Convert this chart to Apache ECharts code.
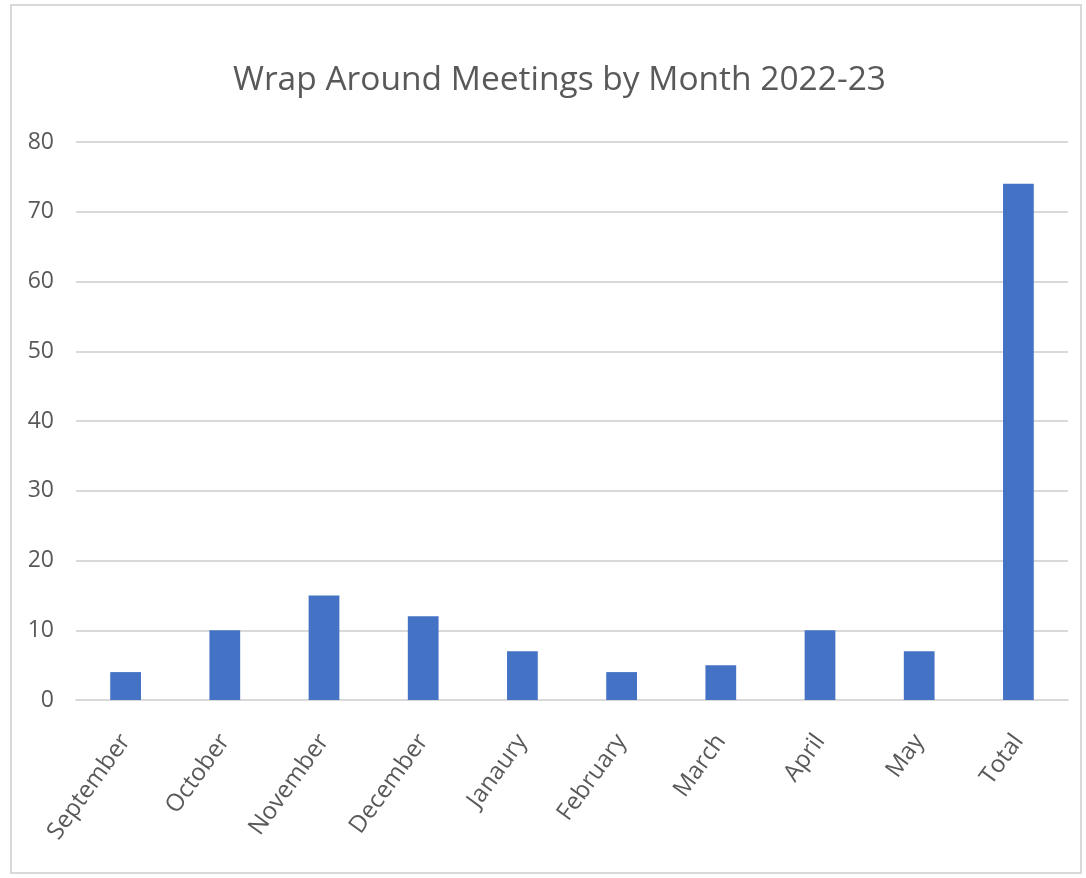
<!DOCTYPE html>
<html>
<head>
<meta charset="utf-8">
<script src="https://cdn.jsdelivr.net/npm/echarts@6/dist/echarts.min.js"></script>
<style>
html,body{margin:0;padding:0;background:#fff;}
#frame{position:absolute;left:10px;top:4px;width:1072px;height:870px;border:2px solid #d9d9d9;box-sizing:border-box;}
#chart{position:absolute;left:0;top:0;width:1086px;height:878px;}
</style>
</head>
<body>
<div id="frame"></div>
<div id="chart"></div>
<script>
const categories = ["September","October","November","December","Janaury","February","March","April","May","Total"];
const meetings = [4,10,15,12,7,4,5,10,7,74];
const yTicks = {min:0, max:80, interval:10};

const chart = echarts.init(document.getElementById('chart'));
chart.setOption({
  animation:false,
  title:{
    text:"Wrap Around Meetings by Month 2022-23",
    left:228, top:58,
    textStyle:{fontFamily:'Open Sans', fontSize:33.5, fontWeight:'normal', color:'#595959'}
  },
  grid:{left:76, right:18, top:142, bottom:178},
  xAxis:{
    type:'category', data:categories,
    axisLine:{show:true, lineStyle:{color:'#d9d9d9', width:2}},
    axisTick:{show:false},
    axisLabel:{rotate:54, interval:0, margin:37, fontFamily:'Open Sans', fontSize:24, color:'#595959'}
  },
  yAxis:{
    type:'value', min:yTicks.min, max:yTicks.max, interval:yTicks.interval,
    axisLine:{show:false}, axisTick:{show:false},
    splitLine:{lineStyle:{color:'#d9d9d9', width:2}},
    axisLabel:{margin:22, fontFamily:'Open Sans', fontSize:23, color:'#595959'}
  },
  series:[{
    type:'bar', data:meetings, barWidth:'31%',
    itemStyle:{color:'#4472C4'}
  }]
});
</script>
</body>
</html>
